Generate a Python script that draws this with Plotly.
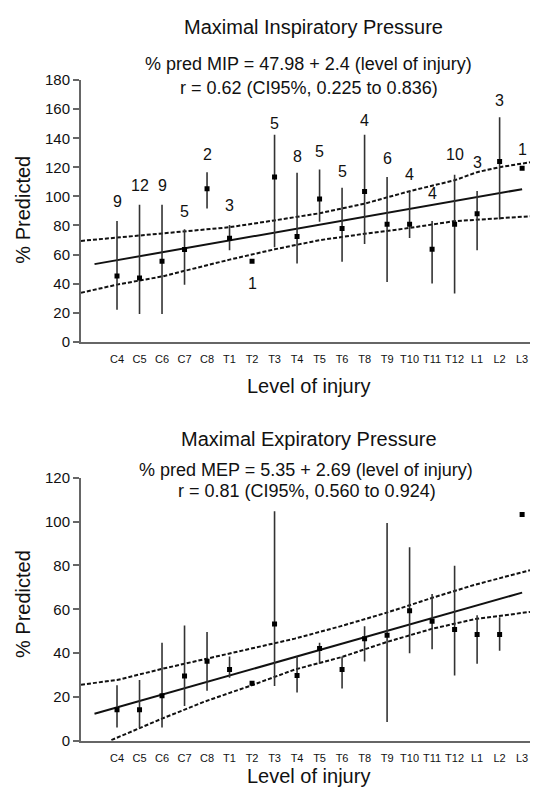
import plotly.graph_objects as go

W, H = 537, 797

levels = ["C4", "C5", "C6", "C7", "C8", "T1", "T2", "T3", "T4", "T5",
          "T6", "T8", "T9", "T10", "T11", "T12", "L1", "L2", "L3"]

# Maximal inspiratory pressure (% predicted)
mip_mean = [45.3, 43.8, 55.4, 63.5, 105.3, 71.2, 55.4, 113.4, 72.5, 98.3,
            77.9, 103.3, 80.8, 80.8, 63.7, 80.8, 88.0, 124.1, 119.4]
mip_high = [83.1, 94.3, 94.3, 77.4, 116.7, 80.4, None, 142.5, 116.3, 118.5,
            105.9, 142.5, 113.4, 103.3, 83.1, 114.9, 103.7, 154.4, None]
mip_low = [22.0, 19.1, 19.1, 39.3, 91.6, 62.9, None, 65.1, 53.9, 82.6,
           55.0, 67.3, 41.1, 71.4, 40.0, 33.2, 62.9, 84.2, None]
mip_n = ["9", "12", "9", "5", "2", "3", "1", "5", "8", "5",
         "5", "4", "6", "4", "4", "10", "3", "3", "1"]
mip_n_y = [96.5, 107.7, 107.3, 89.8, 129.1, 93.8, 40.0, 149.9, 127.5, 130.9,
           117.2, 152.2, 126.4, 114.9, 102.1, 128.6, 123.5, 166.1, 132.4]
mip_fit_x = [-1.0, 18.0]
mip_fit_y = [53.4, 105.0]
mip_band_x = [-1.6, 0, 2, 5, 7, 9, 11, 13, 15, 16, 17, 18.35]
mip_band_up = [69.4, 71.7, 74.3, 78.8, 83.5, 88.4, 95.0, 103.6, 111.1, 116.7, 120.1, 123.5]
mip_band_lo = [33.7, 39.3, 44.9, 56.5, 63.6, 69.9, 74.3, 78.3, 83.0, 84.0, 85.0, 86.3]

# Maximal expiratory pressure (% predicted)
mep_mean = [14.1, 14.1, 20.5, 29.5, 36.3, 32.5, 26.2, 53.3, 29.8, 42.1,
            32.5, 46.6, 48.1, 59.3, 54.5, 50.8, 48.5, 48.5, 103.2]
mep_high = [25.3, 27.7, 44.7, 52.6, 49.6, 38.4, None, 104.7, 38.4, 44.7,
            38.4, 52.3, 99.4, 88.3, 67.0, 79.8, 57.3, 56.3, None]
mep_low = [6.0, 6.0, 6.0, 15.8, 22.8, 28.7, None, 25.0, 22.0, 35.1,
           23.8, 36.2, 8.6, 39.9, 41.7, 29.8, 35.1, 41.1, None]
mep_fit_x = [-1.0, 18.0]
mep_fit_y = [12.3, 67.6]
mep_up_x = [-1.6, 0, 2, 3.9, 5.9, 7.9, 9.95, 12.0, 14.0, 15.9, 18.35]
mep_band_up = [25.6, 27.7, 32.8, 37.2, 42.1, 46.6, 52.3, 58.5, 65.2, 71.2, 77.8]
mep_lo_x = [-0.25, 2, 3.9, 5.9, 7.9, 9.95, 12.0, 14.0, 15.9, 18.35]
mep_band_lo = [0.3, 10.1, 17.9, 25.0, 32.5, 38.1, 45.1, 51.1, 55.5, 58.8]

FONT = "Liberation Sans, Arial, sans-serif"
idx = list(range(len(levels)))


def px_x(p):
    return p / W


def px_y(p):
    return 1 - p / H


def add_panel(fig, xa, ya, mean, high, low, fit_x, fit_y, up_x, up_y, lo_x, lo_y):
    dash = dict(color="#111", width=2, dash="4px,2px")
    fig.add_trace(go.Scatter(x=up_x, y=up_y, mode="lines", line=dash, xaxis=xa, yaxis=ya))
    fig.add_trace(go.Scatter(x=lo_x, y=lo_y, mode="lines", line=dash, xaxis=xa, yaxis=ya))
    fig.add_trace(go.Scatter(x=fit_x, y=fit_y, mode="lines",
                             line=dict(color="#111", width=2), xaxis=xa, yaxis=ya))
    plus = [(h - m) if h is not None else 0 for h, m in zip(high, mean)]
    minus = [(m - l) if l is not None else 0 for l, m in zip(low, mean)]
    fig.add_trace(go.Scatter(
        x=idx, y=mean, mode="markers", xaxis=xa, yaxis=ya,
        marker=dict(symbol="square", size=5, color="#000"),
        error_y=dict(type="data", symmetric=False, array=plus, arrayminus=minus,
                     width=0, thickness=1.6, color="#333"),
    ))


fig = go.Figure()
add_panel(fig, "x", "y", mip_mean, mip_high, mip_low, mip_fit_x, mip_fit_y,
          mip_band_x, mip_band_up, mip_band_x, mip_band_lo)
add_panel(fig, "x2", "y2", mep_mean, mep_high, mep_low, mep_fit_x, mep_fit_y,
          mep_up_x, mep_band_up, mep_lo_x, mep_band_lo)

xdom = [px_x(81), px_x(530)]
xcommon = dict(range=[-1.6, 18.35], tickvals=idx, ticktext=levels, showgrid=False,
               zeroline=False, showline=True, linecolor="#666", linewidth=2,
               ticks="outside", ticklen=6, tickcolor="rgba(0,0,0,0)",
               tickfont=dict(size=11, color="#111", family=FONT), domain=xdom)
ycommon = dict(showgrid=False, zeroline=False, showline=True, linecolor="#666",
               linewidth=2, ticks="outside", ticklen=6, tickwidth=1.5, tickcolor="#666",
               tickfont=dict(size=15, color="#111", family=FONT))

fig.update_layout(
    width=W, height=H, margin=dict(l=0, r=0, t=0, b=0),
    paper_bgcolor="white", plot_bgcolor="white", showlegend=False,
    font=dict(family=FONT, color="#111"),
    xaxis=dict(**xcommon, anchor="y"),
    yaxis=dict(**ycommon, range=[0, 180], dtick=20,
               domain=[px_y(340), px_y(72.7)], anchor="x"),
    xaxis2=dict(**xcommon, anchor="y2"),
    yaxis2=dict(**ycommon, range=[0, 120], dtick=20,
                domain=[px_y(747.7), px_y(479)], anchor="x2"),
)

# count labels above the bars of the top panel
for i, (t, yv) in enumerate(zip(mip_n, mip_n_y)):
    fig.add_annotation(x=i, y=yv, xref="x", yref="y", text=t, showarrow=False,
                       font=dict(size=16, color="#111", family=FONT))

texts = [
    ("Maximal Inspiratory Pressure", 313, 18.5, 20, 0),
    ("% pred MIP = 47.98 + 2.4 (level of injury)", 308, 56.5, 18, 0),
    ("r = 0.62 (CI95%, 0.225 to 0.836)", 309, 80.5, 18, 0),
    ("Level of injury", 308, 385, 20, 0),
    ("% Predicted", 23, 205, 20, -90),
    ("Maximal Expiratory Pressure", 309, 439, 20, 0),
    ("% pred MEP = 5.35 + 2.69 (level of injury)", 306, 471, 18, 0),
    ("r = 0.81 (CI95%, 0.560 to 0.924)", 307, 493, 18, 0),
    ("Level of injury", 308, 784, 20, 0),
    ("% Predicted", 23, 608, 20, -90),
]
for t, x, y, s, ang in texts:
    fig.add_annotation(x=px_x(x), y=px_y(y), xref="paper", yref="paper", text=t,
                       showarrow=False, textangle=ang, xanchor="center", yanchor="middle",
                       font=dict(size=s, color="#111", family=FONT))

# drop the browser's default page margin so the figure sits at the window origin
fig.write_html("out.html", config={"displayModeBar": False},
               post_script="document.body.style.margin='0';")
